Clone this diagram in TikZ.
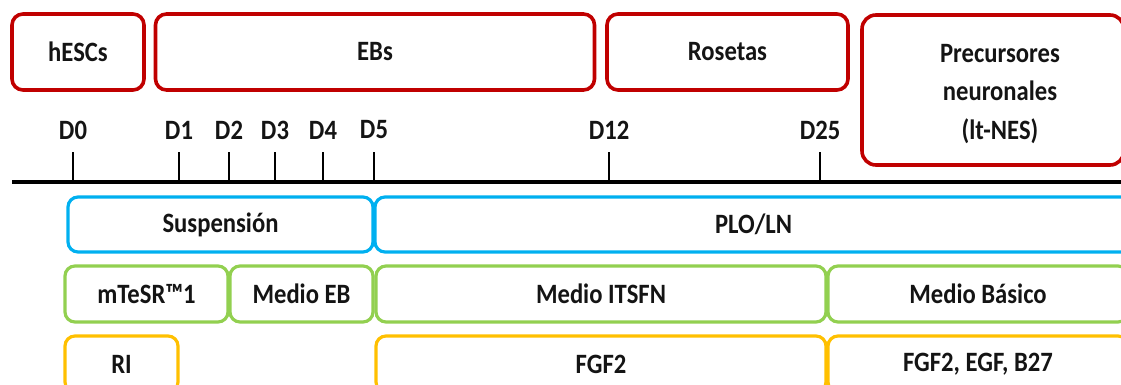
\documentclass[tikz,border=0pt]{standalone}
\usepackage{fontspec}
\setmainfont[FakeStretch=0.88]{Carlito}
\definecolor{cred}{HTML}{C00000}
\definecolor{cblue}{HTML}{00B0F0}
\definecolor{cgreen}{HTML}{92D050}
\definecolor{corange}{HTML}{FFC000}
\definecolor{ctext}{HTML}{141414}
\begin{document}
\begin{tikzpicture}[x=1pt,y=-1pt,
  lbl/.style={font=\fontsize{28}{38.5}\selectfont\bfseries, text=ctext},
  box/.style={lbl, draw, rounded corners=11pt, inner sep=0pt, align=center},
  redbox/.style={box, draw=cred, line width=3.6pt, minimum height=76pt},
  bluebox/.style={box, draw=cblue, line width=3.2pt, minimum height=55pt, rounded corners=10pt},
  greenbox/.style={box, draw=cgreen, line width=3.2pt, minimum height=56pt, rounded corners=10pt},
  orangebox/.style={box, draw=corange, line width=3.2pt, minimum height=56pt, rounded corners=10pt},
  tick/.style={line width=2pt, black},
  axis/.style={line width=3.5pt, black}]
\useasboundingbox (0,0) rectangle (1121,385);
\clip (0,0) rectangle (1121,385);
% stage boxes
\node[redbox, minimum width=132pt] (hesc) at (78,52) {hESCs};
\node[redbox, minimum width=439pt] (ebs) at (375,52) {EBs};
\node[redbox, minimum width=241pt] (ros) at (727.5,52) {Rosetas};
\node[redbox, minimum width=262pt, minimum height=150pt, rounded corners=14pt] (prec) at (993,90) {};
\node[lbl, align=center] (prectext) at (1000,94) {Precursores\\neuronales\\(lt-NES)};
% timeline
\coordinate (tl) at (12,182);
\coordinate (tr) at (1125,182);
\draw[axis] (tl) -- (tr);
\foreach \n/\x in {0/73,1/179,2/229,3/275,4/323,5/374,12/609,25/820}{
  \node[lbl] (d\n) at (\x,130) {D\n};
  \coordinate (t\n) at (\x,152);
  \coordinate (b\n) at (\x,182);
  \draw[tick] (t\n) -- (b\n);
}
% culture rows
\node[bluebox, minimum width=305pt] (susp) at (220.5,224.5) {Suspensión};
\node[bluebox, minimum width=757pt] (plo) at (753.5,224.5) {PLO/LN};
\node[greenbox, minimum width=163pt] (mtesr) at (146.5,294) {mTeSR™1};
\node[greenbox, minimum width=143pt] (meb) at (301.5,294) {Medio EB};
\node[greenbox, minimum width=450pt] (mits) at (601,294) {Medio ITSFN};
\node[greenbox, minimum width=300pt] (mbas) at (978,294) {Medio Básico};
\node[orangebox, minimum width=113pt] (ri) at (121.5,364) {RI};
\node[orangebox, minimum width=450pt] (fgf) at (601,364) {FGF2};
\node[orangebox, minimum width=300pt] (fgfe) at (978,364) {FGF2, EGF, B27};
\end{tikzpicture}
\end{document}
